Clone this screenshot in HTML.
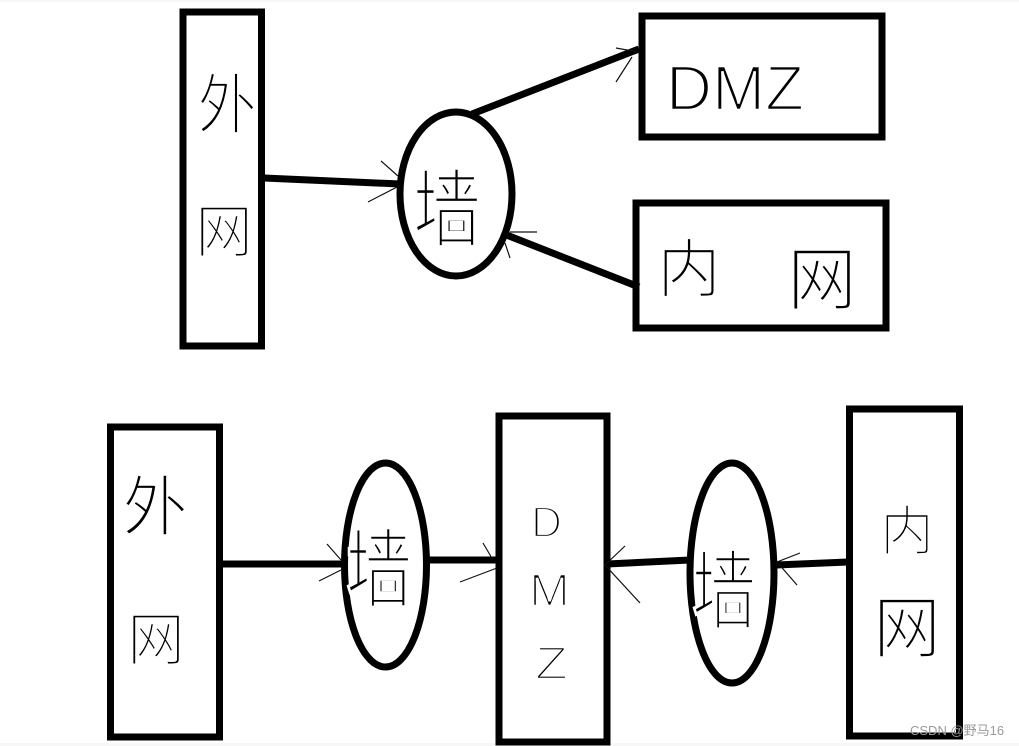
<!DOCTYPE html>
<html><head><meta charset="utf-8"><style>
html,body{margin:0;padding:0;background:#fff}
svg{display:block}
.b{fill:none;stroke:#000;stroke-width:7}
.l{stroke:#000;stroke-width:7;fill:none}
.a{stroke:#111;stroke-width:1.2;fill:none}
.h{font-family:"Liberation Sans","Noto Sans CJK SC",sans-serif;fill:#000;stroke:#fff;stroke-width:2.6;paint-order:fill stroke}
.d{font-family:"Liberation Sans",sans-serif;fill:#000;stroke:#fff;stroke-width:2.4;paint-order:fill stroke}
.w{font-family:"Liberation Sans","Noto Sans CJK SC",sans-serif;font-size:13px;fill:#9a9a9a}
</style></head><body>
<svg width="1019" height="746" viewBox="0 0 1019 746" xmlns="http://www.w3.org/2000/svg">
<rect width="1019" height="746" fill="#fff"/>
<rect width="1019" height="2" fill="#f6f6f6"/>
<rect y="743" width="1019" height="3" fill="#f7f7f7"/>

<!-- top diagram -->
<rect class="b" x="183" y="12" width="78.5" height="334"/>
<rect class="b" x="642" y="16" width="240" height="121"/>
<rect class="b" x="636" y="203" width="250" height="125"/>
<ellipse class="b" cx="456" cy="194" rx="56" ry="82"/>
<line class="l" x1="264" y1="178" x2="400" y2="184"/>
<line class="l" x1="472" y1="114" x2="639" y2="49"/>
<line class="l" x1="639" y1="287" x2="504" y2="234"/>
<path class="a" d="M381 161L398 176M368 202L397 187M616 48L638 52M616 82L632 57M510 232L537 232M505 243L510 258"/>

<text class="h" x="197" y="128" font-size="60" transform="translate(197 128) scale(1 1.1) translate(-197 -128)">外</text>
<text class="h" x="195" y="252" font-size="58">网</text>
<text class="h" x="413" y="240" font-size="68" transform="translate(413 240) scale(1 1.25) translate(-413 -240)">墙</text>
<text class="d" x="666" y="110" font-size="64" textLength="138" lengthAdjust="spacingAndGlyphs">DMZ</text>
<text class="h" x="657" y="292" font-size="64">内</text>
<text class="h" x="787" y="304" font-size="70">网</text>

<!-- bottom diagram -->
<rect class="b" x="110.5" y="427" width="109" height="310"/>
<rect class="b" x="499" y="416" width="108" height="326"/>
<rect class="b" x="849.5" y="409" width="110" height="327"/>
<ellipse class="b" cx="385.5" cy="565" rx="41" ry="102"/>
<ellipse class="b" cx="732" cy="573" rx="42" ry="110"/>
<line class="l" x1="221" y1="564" x2="345" y2="564"/>
<line class="l" x1="428" y1="560" x2="497" y2="560"/>
<line class="l" x1="607" y1="564" x2="690" y2="560"/>
<line class="l" x1="776" y1="565" x2="848" y2="562"/>
<path class="a" d="M327 544L341 560M319 581L341 570M483 543L493 560M460 582L497 568M625 546L605 565L640 603M800 553L777 562L797 585"/>

<text class="h" x="122" y="530" font-size="66">外</text>
<text class="h" x="127" y="660" font-size="58">网</text>
<text class="h" x="346" y="600" font-size="66" transform="translate(346 600) scale(1 1.3) translate(-346 -600)">墙</text>
<text class="d" x="531" y="537" font-size="44" textLength="31" lengthAdjust="spacingAndGlyphs">D</text>
<text class="d" x="529" y="606" font-size="46" textLength="41" lengthAdjust="spacingAndGlyphs">M</text>
<text class="d" x="535" y="679" font-size="46" textLength="33" lengthAdjust="spacingAndGlyphs">Z</text>
<text class="h" x="692" y="622" font-size="64" transform="translate(692 622) scale(1 1.35) translate(-692 -622)">墙</text>
<text class="h" x="880" y="550" font-size="54">内</text>
<text class="h" x="873" y="652" font-size="68">网</text>

<text class="w" x="910" y="735">CSDN @野马16</text>
</svg>
</body></html>
